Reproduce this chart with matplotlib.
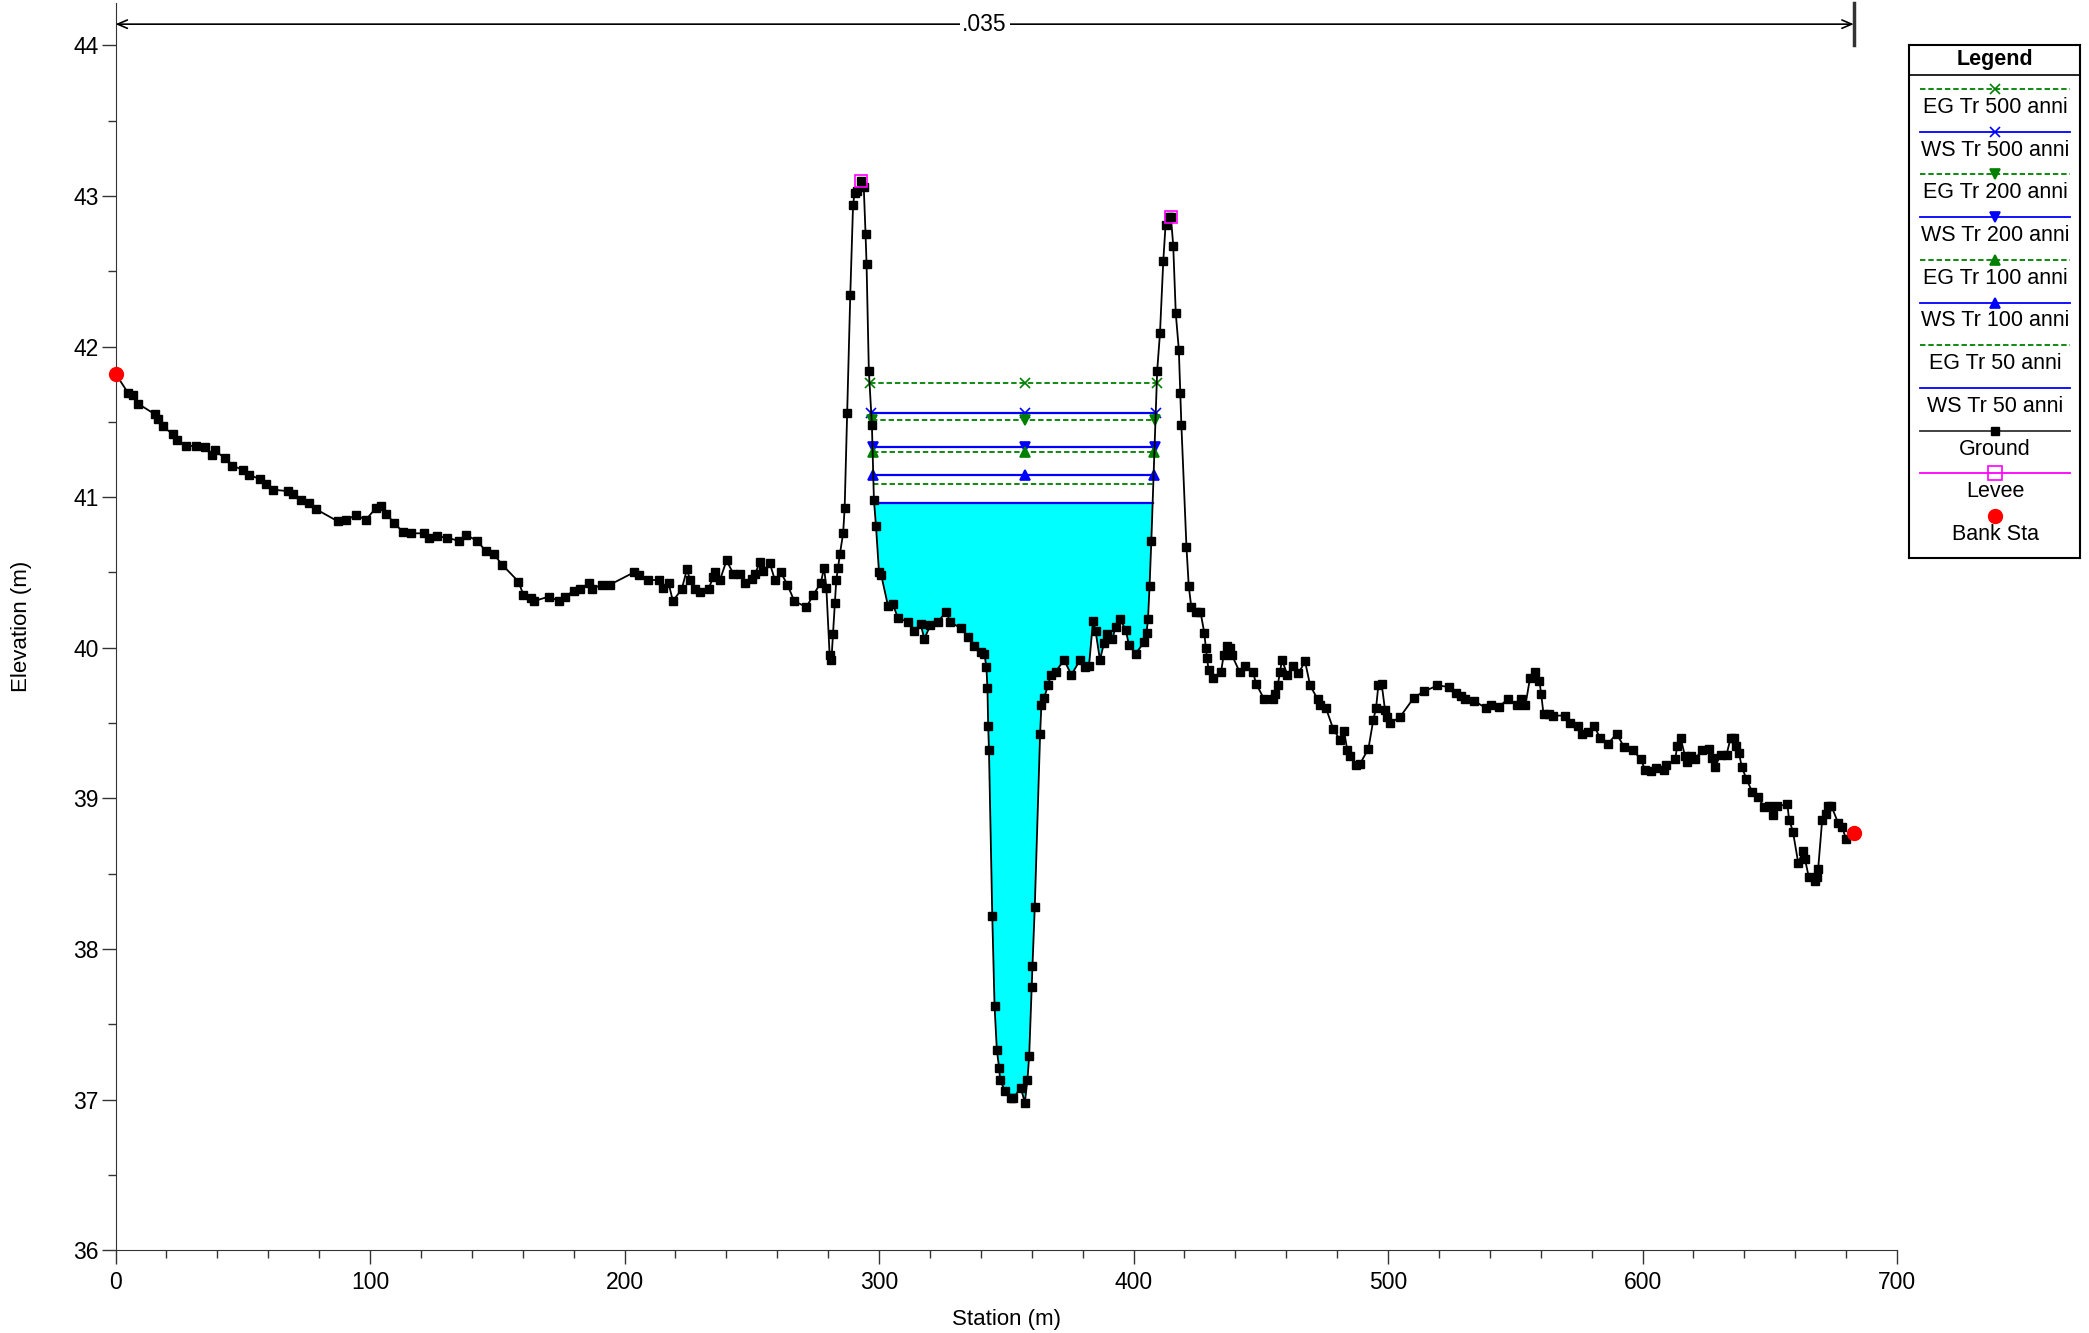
import matplotlib
matplotlib.use("Agg")
import matplotlib.pyplot as plt
import numpy as np

plt.rcParams["font.family"] = ["Liberation Sans", "DejaVu Sans"]

# dati della sezione (stazione m, quota m)
station = [0, 5.0, 7.0, 8.9, 15.5, 16.8, 18.5, 22.4, 24.2, 27.6, 31.8, 35.1, 38.1, 39.0, 42.9,
           45.9, 50.1, 52.4, 56.6, 59.2, 61.8, 67.7, 69.7, 73.0, 76.2, 78.8, 87.3, 90.6, 94.5,
           98.4, 102.4, 104.3, 106.3, 109.5, 112.8, 116.1, 121.3, 123.2, 126.5, 130.4, 135.0,
           137.6, 142.2, 145.5, 148.7, 152.0, 158.3, 160.3, 163.1, 164.4, 170.3, 174.2, 176.8,
           180.1, 182.7, 185.9, 187.2, 191.1, 194.4, 203.6, 205.5, 209.4, 213.4, 215.3, 217.3,
           219.0, 222.5, 224.5, 225.8, 227.7, 229.7, 233.0, 234.9, 235.6, 237.5, 240.1, 242.8,
           245.4, 247.3, 249.9, 251.3, 253.2, 254.5, 257.1, 259.1, 261.4, 264.0, 266.7, 271.5,
           274.1, 277.1, 278.4, 279.3, 280.6, 281.3, 281.9, 282.6, 283.2, 283.9, 284.6, 285.9,
           286.5, 287.5, 288.7, 289.8, 290.4, 291.5, 293.0, 294.0, 294.7, 295.1, 296.0, 297.2,
           298.0, 298.8, 300.0, 300.9, 303.5, 305.4, 307.4, 311.3, 313.9, 316.3, 317.8, 320.2,
           323.1, 326.3, 328.0, 332.2, 335.1, 337.4, 340.0, 341.4, 342.2, 342.6, 342.9, 343.2,
           344.5, 345.4, 346.3, 347.2, 347.6, 349.4, 351.8, 352.8, 355.7, 357.3, 358.3, 359.0,
           360.0, 360.3, 361.2, 363.3, 363.8, 364.9, 366.4, 367.5, 369.4, 372.7, 375.6, 379.0,
           380.8, 382.5, 384.1, 385.1, 386.8, 388.4, 389.4, 391.7, 393.0, 394.7, 396.9, 398.2,
           400.8, 404.3, 405.1, 405.7, 406.3, 407.0, 409.3, 410.4, 411.7, 412.6, 413.9, 414.7,
           415.6, 416.6, 417.8, 418.4, 418.8, 420.8, 421.7, 422.7, 424.7, 426.3, 427.8, 428.4,
           428.9, 429.5, 431.2, 434.4, 435.4, 436.7, 437.8, 438.7, 441.7, 443.9, 446.9, 448.2,
           451.3, 454.7, 455.4, 456.6, 457.6, 458.3, 460.5, 462.5, 464.8, 467.4, 469.4, 472.3,
           473.3, 475.6, 478.5, 481.1, 482.7, 484.0, 485.0, 487.4, 489.0, 492.3, 494.2, 495.3,
           496.2, 497.5, 498.8, 499.5, 500.8, 504.7, 510.2, 514.1, 519.4, 524.0, 526.9, 528.8,
           530.1, 533.7, 538.4, 540.6, 543.6, 547.2, 550.7, 552.4, 554.0, 555.8, 557.6, 559.5,
           560.2, 561.1, 563.4, 565.0, 569.7, 571.5, 574.5, 576.2, 578.5, 581.1, 583.3, 586.3,
           589.8, 592.8, 596.3, 599.3, 601.0, 603.3, 605.2, 608.5, 609.4, 612.8, 613.7, 615.0,
           616.7, 617.6, 618.9, 620.6, 623.3, 626.1, 627.2, 628.5, 630.7, 633.0, 634.6, 635.9,
           636.9, 637.9, 639.0, 640.8, 643.2, 645.5, 647.7, 649.7, 651.3, 653.0, 656.9, 657.6,
           659.1, 661.2, 663.0, 663.8, 665.3, 667.6, 668.6, 669.0, 670.6, 671.9, 672.9, 674.2,
           676.8, 678.4, 680.0, 683.0]
elevation = [41.82, 41.69, 41.68, 41.62, 41.55, 41.52, 41.47, 41.42, 41.38, 41.34, 41.34, 41.33,
             41.28, 41.31, 41.26, 41.21, 41.18, 41.15, 41.12, 41.09, 41.05, 41.04, 41.02, 40.98,
             40.96, 40.92, 40.84, 40.85, 40.88, 40.85, 40.93, 40.94, 40.89, 40.83, 40.77, 40.76,
             40.76, 40.73, 40.74, 40.73, 40.71, 40.75, 40.71, 40.64, 40.62, 40.55, 40.44, 40.35,
             40.33, 40.31, 40.34, 40.31, 40.34, 40.38, 40.39, 40.43, 40.39, 40.42, 40.42, 40.50,
             40.48, 40.45, 40.45, 40.40, 40.43, 40.31, 40.39, 40.52, 40.45, 40.39, 40.37, 40.39,
             40.47, 40.50, 40.45, 40.58, 40.49, 40.49, 40.43, 40.46, 40.49, 40.57, 40.51, 40.56,
             40.45, 40.50, 40.42, 40.31, 40.27, 40.35, 40.43, 40.53, 40.40, 39.95, 39.92, 40.09,
             40.30, 40.45, 40.53, 40.62, 40.76, 40.93, 41.56, 42.34, 42.94, 43.02, 43.03, 43.10,
             43.06, 42.75, 42.55, 41.84, 41.48, 40.98, 40.81, 40.50, 40.48, 40.28, 40.29, 40.20,
             40.17, 40.11, 40.16, 40.06, 40.15, 40.17, 40.24, 40.17, 40.13, 40.07, 40.01, 39.97,
             39.96, 39.87, 39.73, 39.48, 39.32, 38.22, 37.62, 37.33, 37.21, 37.13, 37.06, 37.01,
             37.01, 37.08, 36.98, 37.13, 37.29, 37.75, 37.89, 38.28, 39.43, 39.62, 39.67, 39.75,
             39.82, 39.84, 39.92, 39.82, 39.92, 39.87, 39.88, 40.18, 40.11, 39.92, 40.03, 40.09,
             40.06, 40.14, 40.19, 40.12, 40.02, 39.96, 40.04, 40.10, 40.19, 40.41, 40.71, 41.84,
             42.09, 42.57, 42.81, 42.86, 42.86, 42.67, 42.22, 41.98, 41.69, 41.48, 40.67, 40.41,
             40.27, 40.24, 40.24, 40.10, 40.00, 39.93, 39.85, 39.80, 39.84, 39.95, 40.01, 40.00,
             39.95, 39.84, 39.88, 39.84, 39.76, 39.66, 39.66, 39.69, 39.75, 39.84, 39.92, 39.82,
             39.88, 39.83, 39.91, 39.75, 39.66, 39.62, 39.60, 39.46, 39.39, 39.45, 39.32, 39.28,
             39.22, 39.23, 39.33, 39.52, 39.60, 39.75, 39.76, 39.59, 39.54, 39.50, 39.54, 39.67,
             39.71, 39.75, 39.74, 39.70, 39.68, 39.66, 39.65, 39.60, 39.62, 39.61, 39.66, 39.62,
             39.66, 39.62, 39.80, 39.84, 39.78, 39.69, 39.56, 39.56, 39.55, 39.55, 39.50, 39.48,
             39.43, 39.44, 39.48, 39.40, 39.36, 39.43, 39.34, 39.32, 39.26, 39.19, 39.18, 39.20,
             39.19, 39.22, 39.26, 39.35, 39.40, 39.28, 39.24, 39.28, 39.26, 39.32, 39.33, 39.27,
             39.21, 39.29, 39.29, 39.40, 39.40, 39.35, 39.30, 39.21, 39.13, 39.04, 39.01, 38.94,
             38.95, 38.89, 38.95, 38.96, 38.86, 38.78, 38.57, 38.65, 38.60, 38.48, 38.45, 38.48,
             38.53, 38.86, 38.90, 38.95, 38.95, 38.84, 38.81, 38.73, 38.77]

levee_sta = [293.0, 414.7]
levee_elev = [43.10, 42.86]
bank_sta = [0.0, 683.0]
bank_elev = [41.82, 38.77]

# profili: nome, quota
profiles = ["EG Tr 500 anni", "WS Tr 500 anni", "EG Tr 200 anni", "WS Tr 200 anni",
            "EG Tr 100 anni", "WS Tr 100 anni", "EG Tr 50 anni", "WS Tr 50 anni"]
levels = [41.76, 41.56, 41.51, 41.33, 41.30, 41.15, 41.09, 40.96]
markers = ["x", "x", "v", "v", "^", "^", None, None]

n_label = ".035"
n_range = [0.0, 683.0]

sta = np.array(station)
z = np.array(elevation)
imin = int(np.argmin(z))


def wet_limits(wse):
    i = imin
    while z[i - 1] < wse:
        i -= 1
    xl = np.interp(wse, [z[i], z[i - 1]], [sta[i], sta[i - 1]])
    j = imin
    while z[j + 1] < wse:
        j += 1
    xr = np.interp(wse, [z[j], z[j + 1]], [sta[j], sta[j + 1]])
    return i, j, xl, xr


fig = plt.figure(figsize=(20.89, 13.33), dpi=100)
ax = fig.add_axes([0.0553, 0.062, 0.8528, 0.9357])

# riempimento acqua (WS piu bassa)
i, j, xl, xr = wet_limits(levels[-1])
px = np.concatenate([[xl], sta[i:j + 1], [xr]])
pz = np.concatenate([[levels[-1]], z[i:j + 1], [levels[-1]]])
ax.fill(px, pz, color="#00FFFF", lw=0, zorder=1)

for name, lev, mk in zip(profiles, levels, markers):
    i, j, xl, xr = wet_limits(lev)
    if name.startswith("EG"):
        ax.plot([xl, xr], [lev, lev], color="#008000", lw=1.3, ls=(0, (3, 1.6)), zorder=2)
        col = "#008000"
    else:
        ax.plot([xl, xr], [lev, lev], color="#0000FF", lw=1.6, zorder=2)
        col = "#0000FF"
    if mk:
        ax.plot([xl, sta[imin], xr], [lev] * 3, ls="none", marker=mk, color=col,
                ms=7, mew=1.2, zorder=3)

ax.plot(sta, z, color="black", lw=1.3, marker="s", ms=6, zorder=4)
ax.plot(levee_sta, levee_elev, ls="none", marker="s", ms=9, mfc="none", mec="#FF00FF",
        mew=1.2, zorder=5)
ax.plot(bank_sta, bank_elev, ls="none", marker="o", ms=10, color="red", zorder=6, clip_on=False)

# n di Manning
yn = 44.14
ax.annotate("", xy=(n_range[0], yn), xytext=(n_range[1], yn),
            arrowprops=dict(arrowstyle="<->,head_length=0.7,head_width=0.3", lw=1.2,
                            color="black", shrinkA=0, shrinkB=0))
ax.plot([n_range[1], n_range[1]], [44.0, 44.28], color="#333333", lw=2.5, clip_on=False)
ax.text(sum(n_range) / 2, yn, n_label, ha="center", va="center", fontsize=16.5,
        bbox=dict(facecolor="white", edgecolor="none", pad=2))

ax.set_xlim(0, 700)
ax.set_ylim(36, 44.28)
ax.set_xticks(range(0, 701, 100))
ax.set_xticks(range(0, 701, 20), minor=True)
ax.set_yticks(range(36, 45))
ax.set_yticks(np.arange(36, 44.01, 0.5), minor=True)
for s in ["top", "right"]:
    ax.spines[s].set_visible(False)
ax.spines["left"].set_color("#333333")
ax.spines["bottom"].set_color("#333333")
ax.tick_params(which="major", length=10, width=1, labelsize=16.5, color="#333333")
ax.tick_params(which="minor", length=6, width=1, color="#333333")
ax.tick_params(axis="y", pad=2)
ax.tick_params(axis="x", pad=5)
ax.set_xlabel("Station (m)", fontsize=16, labelpad=11)
ax.set_ylabel("Elevation (m)", fontsize=16, labelpad=30)

# legenda disegnata a mano
lax = fig.add_axes([1909 / 2089, 1 - 558 / 1333, 171 / 2089, 513 / 1333])
lax.set_xlim(1909, 2080)
lax.set_ylim(558, 45)
lax.set_xticks([])
lax.set_yticks([])
for s in lax.spines.values():
    s.set_linewidth(1.5)
lax.text(1994.5, 59, "Legend", ha="center", va="center", fontsize=15.5, fontweight="bold")
lax.plot([1909, 2080], [75, 75], color="black", lw=1.2)

entries = []
for name, mk in zip(profiles, markers):
    if name.startswith("EG"):
        entries.append((name, "#008000", (0, (3, 1.6)), mk))
    else:
        entries.append((name, "#0000FF", "-", mk))
for k, (name, col, ls, mk) in enumerate(entries):
    y = 89 + 42.7 * k
    lax.plot([1920, 2070], [y, y], color=col, ls=ls, lw=1.3)
    if mk:
        lax.plot([1995], [y], marker=mk, color=col, ms=7, mew=1.2)
    lax.text(1995, y + 18.5, name, ha="center", va="center", fontsize=15.5)
y = 89 + 42.7 * 8
lax.plot([1920, 2070], [y, y], color="#333333", lw=1.3)
lax.plot([1995], [y], marker="s", color="black", ms=6)
lax.text(1995, y + 18.5, "Ground", ha="center", va="center", fontsize=15.5)
y = 89 + 42.7 * 9
lax.plot([1920, 2070], [y, y], color="#FF00FF", lw=1.3)
lax.plot([1995], [y], marker="s", mfc="none", mec="#FF00FF", ms=10, mew=1.2)
lax.text(1995, y + 18.5, "Levee", ha="center", va="center", fontsize=15.5)
y = 89 + 42.7 * 10
lax.plot([1995], [y], marker="o", color="red", ms=10)
lax.text(1995, y + 18.5, "Bank Sta", ha="center", va="center", fontsize=15.5)

fig.savefig("out.png", dpi=100)
